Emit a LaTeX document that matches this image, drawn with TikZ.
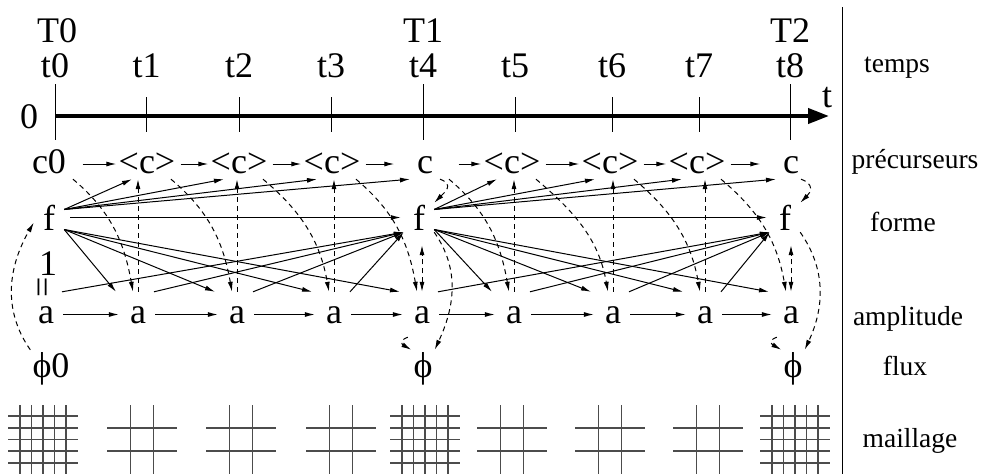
\documentclass[tikz,border=0pt]{standalone}
\usepackage{fontspec}
\setmainfont{Liberation Serif}
\usetikzlibrary{positioning,arrows.meta}
\newcommand{\biglab}{\fontsize{36}{40}\selectfont}
\newcommand{\rowlab}{\fontsize{27.5}{30}\selectfont}

\begin{document}
\begin{tikzpicture}
[x=1pt,y=-1pt,
 >={Latex[length=10pt,width=5pt]},
 lab/.style={font=\biglab, inner sep=2pt, anchor=base},
 cnode/.style={lab, minimum width=61pt, inner ysep=6pt, text height=18pt, text depth=0pt},
 fnode/.style={lab, inner xsep=9pt, inner ysep=2pt, text height=25pt, text depth=0pt},
 anode/.style={lab, inner xsep=6pt, inner ysep=14pt, text height=17pt, text depth=0pt},
 rowname/.style={font=\rowlab, anchor=base},
 arr/.style={->, line width=1pt},
 darr/.style={arr, dash pattern=on 5pt off 4pt},
 tick/.style={line width=1pt},
 mesh/.style={line width=1.4pt, draw=black!70}]
\useasboundingbox (0,0) rectangle (984,474);

% time axis
\foreach \x [count=\i from 0] in {55,146.5,239,331,423,515,612,699,790}
  \node[lab] (t\i) at (\x,77) {t\i};
\node[lab] (T0) at (57,42) {T0};
\node[lab] (T1) at (423,42) {T1};
\node[lab] (T2) at (790,42) {T2};
\foreach \x in {146.5,239,331,515,612,699}
  \draw[tick] (\x,97) -- (\x,132);
\foreach \x in {55,423,790}
  \draw[tick] (\x,84) -- (\x,140);
\node[lab] (zero) at (29,128) {0};
\node[lab] (tt) at (827,107) {t};
\coordinate (axs) at (55,116);
\coordinate (axe) at (829,116);
\draw[line width=4pt,-{Triangle[length=21pt,width=15pt]}] (axs) -- (axe);
\draw[line width=1pt] (842,7) -- (842,474);

% row names
\node[rowname] (ntemps) at (897,72) {temps};
\node[rowname] (nprec) at (915,168) {précurseurs};
\node[rowname] (nforme) at (903,231) {forme};
\node[rowname] (nampl) at (908,325) {amplitude};
\node[rowname] (nflux) at (905,375) {flux};
\node[rowname] (nmail) at (910,447) {maillage};

% unknowns
\foreach \x/\n/\t in {49/0/c0,147/1/<c>,239/2/<c>,332/3/<c>,425/4/c,512/5/<c>,610/6/<c>,697/7/<c>,791/8/c}
  \node[cnode] (c\n) at (\x,173) {\t};
\node[fnode] (f0) at (49,230) {f};
\node[fnode] (f4) at (419,230) {f};
\node[fnode] (f8) at (785,230) {f};
\foreach \x [count=\n from 0] in {46,138,237,334,422,514,613,705,791}
  \node[anode] (a\n) at (\x,323) {a};
\node[lab] (p0) at (51,377) {ϕ0};
\node[lab] (p4) at (423,377) {ϕ};
\node[lab] (p8) at (793,377) {ϕ};
\node[lab] (one) at (48,275) {1};
\node[lab, rotate=90, anchor=center] (eq) at (46,287) {=};

% chains
\foreach \i [evaluate=\i as \j using int(\i+1)] in {0,...,7} {
  \draw[arr, shorten <=3pt] (c\i.east) -- (c\j.west);
  \draw[arr, shorten <=3pt, shorten >=5pt] (a\i.east) -- (a\j.west);
  \draw[darr] ([xshift=24pt]c\i.south) to[out=-40,in=100] ([xshift=-5pt]a\j.north);
}
\draw[arr, shorten <=6pt, shorten >=3pt] (f0.east) -- (f4.west);
\draw[arr, shorten <=6pt, shorten >=3pt] (f4.east) -- (f8.west);

% shape to precursors and amplitude
\foreach \i in {1,...,4} {
  \draw[arr] ([yshift=8pt]f0.east) -- ([xshift=-15pt]c\i.south);
  \draw[arr] ([yshift=-12pt]f0.east) -- ([xshift=-22pt]a\i.north);
}
\foreach \i in {5,...,8} {
  \draw[arr] ([yshift=8pt]f4.east) -- ([xshift=-15pt]c\i.south);
  \draw[arr] ([yshift=-12pt]f4.east) -- ([xshift=-22pt]a\i.north);
}
\foreach \i in {0,...,3}
  \draw[arr] ([xshift=16pt]a\i.north) -- (f4.south west);
\foreach \i in {4,...,7}
  \draw[arr] ([xshift=16pt]a\i.north) -- (f8.south west);

% amplitude to precursors
\foreach \i in {1,2,3,5,6,7}
  \draw[darr] (a\i.north) -- (a\i.north |- c\i.south);

% macro steps
\draw[darr] ([xshift=15pt]c4.south) to[out=-20,in=45,looseness=1.6] (f4.north east);
\draw[darr] ([xshift=10pt]c8.south) to[out=-20,in=45,looseness=1.6] (f8.north east);
\draw[darr, <->, shorten >=13pt] (a4.north) -- (a4.north |- f4.south);
\draw[darr, <->, shorten >=13pt] (a8.north) -- (a8.north |- f8.south);
\draw[darr] (a4.south west) to[out=-160,in=150,looseness=2] (p4.north west);
\draw[darr] (a8.south west) to[out=-160,in=150,looseness=2] (p8.north west);
\draw[darr] (f4.south east) to[out=-55,in=65] (p4.north east);
\draw[darr] (f8.south east) to[out=-55,in=65] (p8.north east);
\draw[darr] (p0.north west) to[out=125,in=-120] ([yshift=-5pt]f0.west);

% meshes
\foreach \m in {43,425,795} {
  \foreach \y in {416,428,439.5,451,463}
    \draw[mesh] (\m-35,\y) -- (\m+35,\y);
  \foreach \d in {-23,-11.5,0,11.5,23}
    \draw[mesh] (\m+\d,405) -- (\m+\d,474);
}
\foreach \m in {142,241,341,512,610,708} {
  \foreach \y in {428,451}
    \draw[mesh] (\m-35,\y) -- (\m+35,\y);
  \foreach \d in {-11.5,11.5}
    \draw[mesh] (\m+\d,405) -- (\m+\d,474);
}
\end{tikzpicture}
\end{document}
